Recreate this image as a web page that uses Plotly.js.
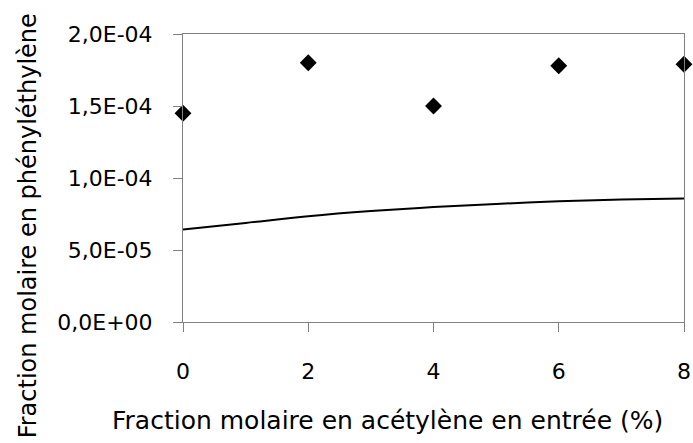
<!DOCTYPE html>
<html><head><meta charset="utf-8">
<script src="https://cdn.plot.ly/plotly-3.0.1.min.js"></script>
<style>html,body{margin:0;padding:0;background:#fff;}#chart{width:693px;height:443px;}</style>
</head><body><div id="chart"></div>
<script>
const expX = [0, 2, 4, 6, 8];
const expY = [1.45e-4, 1.80e-4, 1.50e-4, 1.78e-4, 1.79e-4];
const modelX = [0, 1, 2, 3, 4, 5, 6, 7, 8];
const modelY = [6.42e-5, 6.88e-5, 7.34e-5, 7.70e-5, 7.98e-5, 8.20e-5, 8.38e-5, 8.50e-5, 8.57e-5];
const yTickVals = [0, 5e-5, 1e-4, 1.5e-4, 2e-4];
const yTickText = ["0,0E+00", "5,0E-05", "1,0E-04", "1,5E-04", "2,0E-04"];
const xTickVals = [0, 2, 4, 6, 8];
const xTitle = "Fraction molaire en acétylène en entrée (%)";
const yTitle = "Fraction molaire en phényléthylène";

const fam = "'Comic Sans MS', 'DejaVu Sans', sans-serif";
const tickFont = {family: fam, size: 22, color: "#000"};
const data = [
  {x: modelX, y: modelY, mode: "lines", line: {color: "#000", width: 2, shape: "spline", smoothing: 1}, showlegend: false, hoverinfo: "skip"},
  {x: expX, y: expY, mode: "markers", marker: {symbol: "diamond", size: 13, color: "#000"}, showlegend: false, cliponaxis: false}
];
const layout = {
  width: 693, height: 443,
  margin: {l: 183, r: 9, t: 34, b: 121},
  paper_bgcolor: "#fff", plot_bgcolor: "#fff",
  font: tickFont,
  xaxis: {
    range: [0, 8], tickvals: xTickVals, ticks: "outside", ticklen: 9, tickcolor: "#808080",
    showline: true, linecolor: "#808080", linewidth: 1, mirror: true, showgrid: false, zeroline: false,
    ticklabelstandoff: 21, tickfont: tickFont
  },
  yaxis: {
    range: [0, 2e-4], tickvals: yTickVals, ticktext: yTickText, ticks: "outside", ticklen: 9, tickcolor: "#808080",
    showline: true, linecolor: "#808080", linewidth: 1, mirror: true, showgrid: false, zeroline: false,
    ticklabelstandoff: 16, tickfont: tickFont
  },
  annotations: [
    {text: xTitle, xref: "paper", yref: "paper", x: (387 - 183) / 501, y: (323 - 422) / 289,
     xanchor: "center", yanchor: "middle", showarrow: false, font: {family: fam, size: 25, color: "#000"}},
    {text: yTitle, xref: "paper", yref: "paper", x: (28 - 183) / 501, y: (323 - 227) / 289, textangle: -90,
     xanchor: "center", yanchor: "middle", showarrow: false, font: {family: fam, size: 24, color: "#000"}}
  ]
};
Plotly.newPlot("chart", data, layout, {staticPlot: true, displayModeBar: false});
</script></body></html>
